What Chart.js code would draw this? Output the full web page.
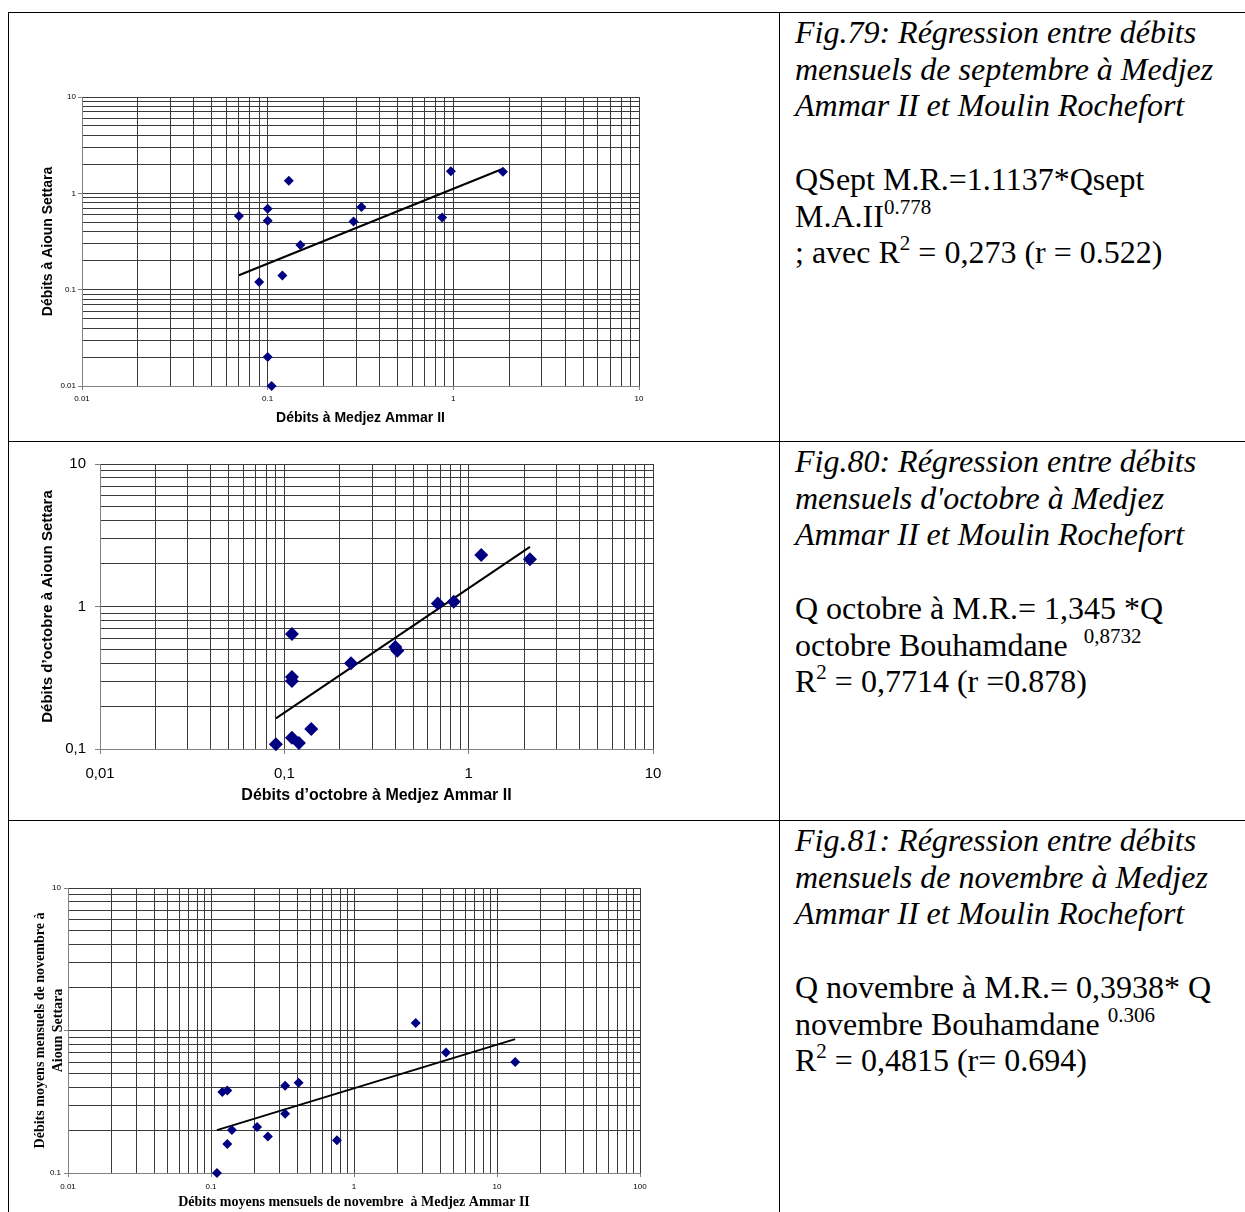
<!DOCTYPE html>
<html>
<head>
<meta charset="utf-8">
<script src="https://cdn.jsdelivr.net/npm/chart.js@4.4.0/dist/chart.umd.min.js"></script>
<style>
body { margin:0; background:#fff; width:1245px; height:1212px; overflow:hidden; position:relative; }
.hl { position:absolute; height:1px; background:#000; }
.vl { position:absolute; width:1px; background:#000; }
.plot { position:absolute; }
.cap { position:absolute; left:795px; font-family:"Liberation Serif","Times New Roman",serif; font-size:32px; line-height:36.7px; color:#000; white-space:nowrap; }
.cap sup { font-size:21px; line-height:0; vertical-align:baseline; position:relative; top:-13px; }
</style>
</head>
<body>

<!-- table lines -->
<div class="hl" style="left:8px; top:12px; width:1237px;"></div>
<div class="hl" style="left:8px; top:441px; width:1237px;"></div>
<div class="hl" style="left:8px; top:820px; width:1237px;"></div>
<div class="vl" style="left:8px; top:12px; height:1200px;"></div>
<div class="vl" style="left:779px; top:12px; height:1200px;"></div>

<div class="plot" style="left:10px; top:80px;"><canvas id="fig79" width="660" height="350"></canvas></div>
<div class="plot" style="left:10px; top:445px;"><canvas id="fig80" width="680" height="370"></canvas></div>
<div class="plot" style="left:10px; top:875px;"><canvas id="fig81" width="660" height="337"></canvas></div>

<div class="cap" style="top:14px;"><i>Fig.79: Régression entre débits<br>mensuels de septembre à Medjez<br>Ammar II et Moulin Rochefort</i><br><br>QSept M.R.=1.1137*Qsept<br>M.A.II<sup>0.778</sup><br>; avec R<sup>2</sup> = 0,273 (r = 0.522)</div>

<div class="cap" style="top:443px;"><i>Fig.80: Régression entre débits<br>mensuels d'octobre à Medjez<br>Ammar II et Moulin Rochefort</i><br><br>Q octobre à M.R.= 1,345 *Q<br>octobre Bouhamdane &nbsp;<sup>0,8732</sup><br>R<sup>2</sup> = 0,7714 (r =0.878)</div>

<div class="cap" style="top:822px;"><i>Fig.81: Régression entre débits<br>mensuels de novembre à Medjez<br>Ammar II et Moulin Rochefort</i><br><br>Q novembre à M.R.= 0,3938* Q<br>novembre Bouhamdane <sup>0.306</sup><br>R<sup>2</sup> = 0,4815 (r= 0.694)</div>

<script>
// Fig.79 - septembre
var sepX = [0.07, 0.1, 0.1, 0.13, 0.09, 0.12, 0.15, 0.1, 0.105, 0.29, 0.32, 0.87, 0.97, 1.85];
var sepY = [0.58, 0.69, 0.52, 1.35, 0.12, 0.14, 0.29, 0.02, 0.01, 0.51, 0.72, 0.56, 1.7, 1.68];
var sepTrendX = [0.07, 1.85];
var sepTrendY = [0.141, 1.80];
var sepXDecades = [0.01, 0.1, 1, 10];
var sepXLabels = ['0.01', '0.1', '1', '10'];
var sepYDecades = [0.01, 0.1, 1, 10];
var sepYLabels = ['0.01', '0.1', '1', '10'];

// Fig.80 - octobre
var octX = [0.09, 0.11, 0.11, 0.11, 0.11, 0.12, 0.14, 0.23, 0.40, 0.41, 0.68, 0.83, 1.17, 2.15];
var octY = [0.108, 0.64, 0.32, 0.30, 0.12, 0.11, 0.138, 0.40, 0.52, 0.49, 1.05, 1.08, 2.3, 2.15];
var octTrendX = [0.09, 2.15];
var octTrendY = [0.164, 2.62];
var octXDecades = [0.01, 0.1, 1, 10];
var octXLabels = ['0,01', '0,1', '1', '10'];
var octYDecades = [0.1, 1, 10];
var octYLabels = ['0,1', '1', '10'];

// Fig.81 - novembre
var novX = [0.11, 0.12, 0.13, 0.13, 0.14, 0.21, 0.25, 0.33, 0.33, 0.41, 0.76, 2.7, 4.4, 13.4];
var novY = [0.1, 0.37, 0.38, 0.16, 0.2, 0.21, 0.18, 0.41, 0.26, 0.43, 0.17, 1.13, 0.7, 0.6];
var novTrendX = [0.11, 13.4];
var novTrendY = [0.2, 0.87];
var novXDecades = [0.01, 0.1, 1, 10, 100];
var novXLabels = ['0.01', '0.1', '1', '10', '100'];
var novYDecades = [0.1, 1, 10];
var novYLabels = ['0.1', '', '10'];

function toPoints(xs, ys) {
    return xs.map(function(x, i){ return {x: x, y: ys[i]}; });
}

// 1..9 in every decade, so the grid is drawn like the excel one
function logTicks(decades) {
    var out = [];
    for (var i = 0; i < decades.length - 1; i++) {
        for (var k = 1; k < 10; k++) out.push(+(decades[i] * k).toPrecision(6));
    }
    out.push(decades[decades.length - 1]);
    return out;
}

function labelOf(v, decades, labels) {
    for (var i = 0; i < decades.length; i++) {
        if (Math.abs(v - decades[i]) < decades[i] * 1e-6) return labels[i];
    }
    return null;
}

function logAxis(o) {
    var ticks = logTicks(o.decades);
    return {
        type: 'logarithmic',
        min: o.decades[0],
        max: o.decades[o.decades.length - 1],
        afterBuildTicks: function(s){ s.ticks = ticks.map(function(v){ return {value: v}; }); },
        afterFit: function(s){ if (s.isHorizontal()) s.height = o.size; else s.width = o.size; },
        border: { color: '#808080', width: 1 },
        grid: {
            color: '#3a3a3a', lineWidth: 1, drawTicks: true, tickLength: o.tickLen,
            tickColor: function(c){ return labelOf(c.tick.value, o.decades, o.labels) !== null ? '#808080' : 'rgba(0,0,0,0)'; }
        },
        ticks: {
            autoSkip: false, maxRotation: 0, padding: o.pad, color: '#000', font: o.tickFont,
            callback: function(v){ var l = labelOf(v, o.decades, o.labels); return l === null ? '' : l; }
        },
        title: { display: true, text: o.title, color: '#000', font: o.titleFont, padding: o.titlePad }
    };
}

function makeChart(id, pts, trend, radius, xAxis, yAxis, pad) {
    return new Chart(document.getElementById(id), {
        type: 'scatter',
        data: {
            datasets: [{
                data: pts,
                pointStyle: 'rectRot',
                pointRadius: radius,
                backgroundColor: '#000080',
                borderColor: '#000080',
                borderWidth: 0,
                clip: false
            }, {
                data: trend,
                showLine: true,
                pointRadius: 0,
                borderColor: '#000',
                borderWidth: 2,
                clip: false
            }]
        },
        options: {
            responsive: false,
            animation: false,
            events: [],
            layout: { padding: pad },
            plugins: { legend: { display: false }, tooltip: { enabled: false } },
            scales: { x: xAxis, y: yAxis }
        }
    });
}

var sans = '"Liberation Sans", Arial, sans-serif';
var serif = '"Liberation Serif", "Times New Roman", serif';

makeChart('fig79', toPoints(sepX, sepY), toPoints(sepTrendX, sepTrendY), 5,
    logAxis({ decades: sepXDecades, labels: sepXLabels, size: 44, tickLen: 4, pad: 4,
        tickFont: { family: sans, size: 8 }, title: 'Débits à Medjez Ammar II',
        titleFont: { family: sans, size: 14, weight: 'bold' }, titlePad: { top: 0, bottom: 3 } }),
    logAxis({ decades: sepYDecades, labels: sepYLabels, size: 72, tickLen: 4, pad: 2,
        tickFont: { family: sans, size: 8 }, title: 'Débits à Aioun Settara',
        titleFont: { family: sans, size: 14, weight: 'bold' }, titlePad: { top: 30, bottom: 0 } }),
    { left: 0, top: 17, right: 31, bottom: 0 });

makeChart('fig80', toPoints(octX, octY), toPoints(octTrendX, octTrendY), 7,
    logAxis({ decades: octXDecades, labels: octXLabels, size: 66, tickLen: 5, pad: 11,
        tickFont: { family: sans, size: 15 }, title: 'Débits d\u2019octobre à Medjez Ammar II',
        titleFont: { family: sans, size: 16, weight: 'bold' }, titlePad: { top: 0, bottom: 10 } }),
    logAxis({ decades: octYDecades, labels: octYLabels, size: 90, tickLen: 5, pad: 9,
        tickFont: { family: sans, size: 15 }, title: 'Débits d\u2019octobre à Aioun Settara',
        titleFont: { family: sans, size: 15, weight: 'bold' }, titlePad: { top: 29, bottom: 0 } }),
    { left: 0, top: 19, right: 37, bottom: 0 });

makeChart('fig81', toPoints(novX, novY), toPoints(novTrendX, novTrendY), 5,
    logAxis({ decades: novXDecades, labels: novXLabels, size: 39, tickLen: 4, pad: 5,
        tickFont: { family: sans, size: 8 }, title: 'Débits moyens mensuels de novembre  à Medjez Ammar II',
        titleFont: { family: serif, size: 14, weight: 'bold', lineHeight: 1.2 }, titlePad: { top: 0, bottom: 1 } }),
    logAxis({ decades: novYDecades, labels: novYLabels, size: 58, tickLen: 4, pad: 3,
        tickFont: { family: sans, size: 8 }, title: ['Débits moyens mensuels de novembre à', 'Aioun Settara'],
        titleFont: { family: serif, size: 14, weight: 'bold', lineHeight: 1.29 }, titlePad: { top: 21, bottom: 0 } }),
    { left: 0, top: 13, right: 30, bottom: 0 });
</script>
</body>
</html>
